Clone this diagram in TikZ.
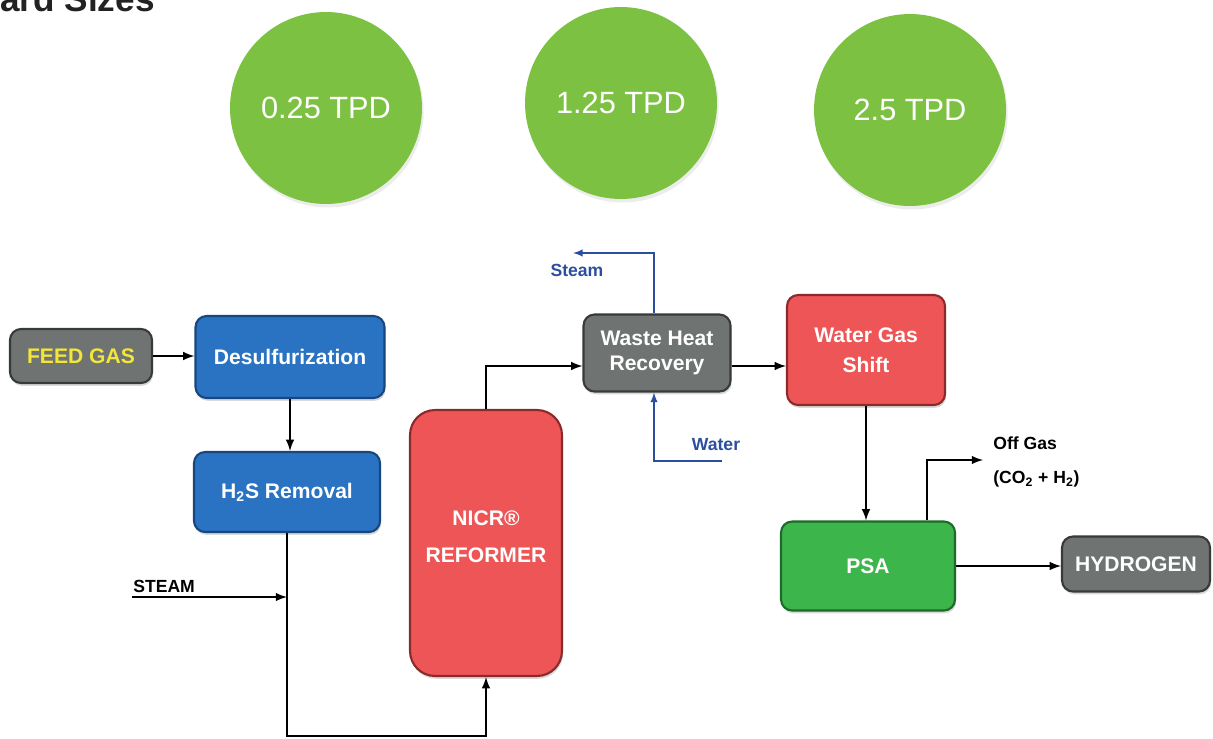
\documentclass[tikz,border=0pt]{standalone}
\usepackage{fontspec}
\setmainfont{Liberation Sans}
\usetikzlibrary{shadows}
\definecolor{sizegreen}{HTML}{7DC142}
\definecolor{unitblue}{HTML}{2A72C2}
\definecolor{unitblueline}{HTML}{17477E}
\definecolor{unitred}{HTML}{EE5556}
\definecolor{unitredline}{HTML}{8A2A2A}
\definecolor{unitgreen}{HTML}{3CB54B}
\definecolor{unitgreenline}{HTML}{1D6B2A}
\definecolor{unitgray}{HTML}{6F7372}
\definecolor{unitgrayline}{HTML}{383A3A}
\definecolor{feedyellow}{HTML}{F3E63A}
\definecolor{waterblue}{HTML}{2C4E9E}
\definecolor{titlegray}{HTML}{222222}

\begin{document}
\begin{tikzpicture}[x=0.02cm, y=-0.02cm,
    unit/.style={rectangle, rounded corners=0.22cm, line width=1.2pt, text=white, align=center, inner sep=2pt,
      font=\bfseries\fontsize{12}{15}\selectfont,
      drop shadow={shadow xshift=0.6pt, shadow yshift=-1.6pt, opacity=0.3}},
    blueunit/.style={unit, fill=unitblue, draw=unitblueline},
    redunit/.style={unit, fill=unitred, draw=unitredline},
    greenunit/.style={unit, fill=unitgreen, draw=unitgreenline},
    grayunit/.style={unit, fill=unitgray, draw=unitgrayline},
    size/.style={circle, fill=sizegreen, minimum size=3.84cm, text=white, font=\fontsize{17.5}{20}\selectfont,
      drop shadow={shadow xshift=1pt, shadow yshift=-2pt, opacity=0.15}},
    flow/.style={line width=1.2pt, -latex},
    waterflow/.style={line width=0.9pt, draw=waterblue, -latex},
    lbl/.style={font=\bfseries\fontsize{10}{12}\selectfont, inner sep=0pt},
  ]
  \useasboundingbox (0,0) rectangle (1213,738);
  \clip (0,0) rectangle (1213,738);
  \node[anchor=base east, inner sep=0pt, text=titlegray, font=\bfseries\fontsize{20}{24}\selectfont] (title) at (155,11) {Standard Sizes};

  \node[size] (small) at (326,108) {0.25 TPD};
  \node[size] (medium) at (621,103) {1.25 TPD};
  \node[size] (large) at (910,110) {2.5 TPD};

  \node[grayunit, text=feedyellow, minimum width=2.84cm, minimum height=1.08cm] (feed) at (81,356) {FEED GAS};
  \node[blueunit, minimum width=3.78cm, minimum height=1.64cm] (desulf) at (290,357) {Desulfurization};
  \node[blueunit, minimum width=3.72cm, minimum height=1.6cm] (hts) at (287,492) {H\textsubscript{2}S Removal};
  \node[redunit, rounded corners=0.5cm, minimum width=3.04cm, minimum height=5.32cm, font=\bfseries\fontsize{12}{21.5}\selectfont] (reformer) at (486,543) {NICR\textregistered\\REFORMER\\[-0.5cm]};
  \node[grayunit, minimum width=2.94cm, minimum height=1.54cm, font=\bfseries\fontsize{12}{14.7}\selectfont] (whr) at (657,353) {Waste Heat\\Recovery};
  \node[redunit, minimum width=3.16cm, minimum height=2.2cm, font=\bfseries\fontsize{12}{17}\selectfont] (wgs) at (866,350) {Water Gas\\Shift};
  \node[greenunit, minimum width=3.48cm, minimum height=1.78cm] (psa) at (868,566) {PSA};
  \node[grayunit, minimum width=2.96cm, minimum height=1.1cm] (hydrogen) at (1136,564) {HYDROGEN};

  \coordinate (steamin) at (132,597);
  \coordinate (steamout) at (573,253);
  \coordinate (waterin) at (722,461);
  \coordinate (offgas) at (983,460);

  \draw[flow] (feed.east) -- (feed.east -| desulf.west);
  \draw[flow] (desulf.south) -- (desulf.south |- hts.north);
  \draw[flow] (hts.south) -- ++(0,203) -| (reformer.south);
  \draw[flow] (steamin) -- (steamin -| hts.south);
  \node[lbl, anchor=south west] (steamlbl) at (133,593) {STEAM};
  \draw[flow] (reformer.north) |- ([yshift=-0.26cm]whr.west);
  \draw[flow] ([yshift=-0.26cm]whr.east) -- ([yshift=-0.26cm]whr.east -| wgs.west);
  \draw[waterflow] ([xshift=-0.06cm]whr.north) |- (steamout);
  \node[lbl, text=waterblue] (steamtxt) at (577,270) {Steam};
  \draw[waterflow] (waterin) -| ([xshift=-0.06cm]whr.south);
  \node[lbl, text=waterblue] (watertxt) at (716,445) {Water};
  \draw[flow] (wgs.south) -- (wgs.south |- psa.north);
  \draw[flow] (psa.east) -- (psa.east -| hydrogen.west);
  \draw[flow] ([xshift=1.18cm]psa.north) |- (offgas);
  \node[lbl, anchor=west] (offtxt) at (993,443) {Off Gas};
  \node[lbl, anchor=west] (offmix) at (993,479) {(CO\textsubscript{2} + H\textsubscript{2})};
\end{tikzpicture}
\end{document}
